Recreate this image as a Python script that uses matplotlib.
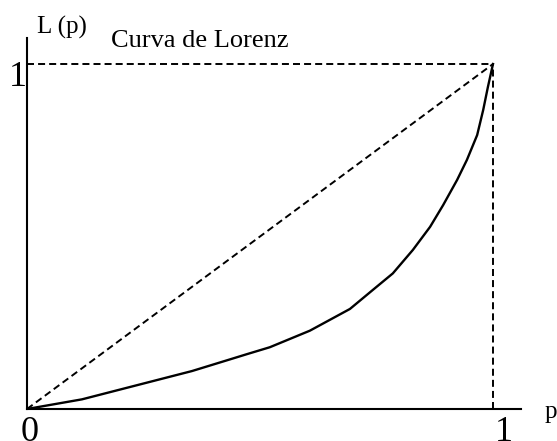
import matplotlib
matplotlib.use("Agg")
import matplotlib.pyplot as plt

# Lorenz curve
p_vals = [0, 0.118, 0.236, 0.354, 0.436, 0.472, 0.521, 0.607, 0.693, 0.742,
          0.785, 0.828, 0.865, 0.893, 0.923, 0.944, 0.966, 0.979, 0.989, 1.0]
L_vals = [0, 0.028, 0.069, 0.11, 0.144, 0.159, 0.179, 0.227, 0.29, 0.345,
          0.393, 0.461, 0.528, 0.591, 0.664, 0.722, 0.794, 0.867, 0.933, 1.0]

W, H = 557, 441
plt.rcParams['font.family'] = ['Liberation Serif', 'DejaVu Serif']

fig = plt.figure(figsize=(W / 100, H / 100), dpi=100)
# origin at (27, 409) px, p=1 at x=493, L=1 at y=64
ax = fig.add_axes([27 / W, (H - 409) / H, (521 - 27) / W, (409 - 38) / H])
ax.set_xlim(0, (521 - 27) / 466)
ax.set_ylim(0, (409 - 38) / 345)

dash = (0, (3.6, 2.1))
ax.plot([0, 1], [0, 1], color='black', lw=1.4, linestyle=dash)
ax.plot([0, 1], [1, 1], color='black', lw=1.4, linestyle=dash)
ax.plot([1, 1], [0, 1], color='black', lw=1.4, linestyle=dash)
ax.plot(p_vals, L_vals, color='black', lw=1.7)

for s in ['top', 'right']:
    ax.spines[s].set_visible(False)
for s in ['left', 'bottom']:
    ax.spines[s].set_linewidth(1.5)
    ax.spines[s].set_color('black')
ax.set_xticks([])
ax.set_yticks([])


def px(x, y):
    return x / W, 1 - y / H


fig.text(*px(37, 34), 'L (p)', fontsize=18, va='baseline', ha='left')
fig.text(*px(111, 47), 'Curva de Lorenz', fontsize=19, va='baseline', ha='left')
fig.text(*px(18, 86), '1', fontsize=26, va='baseline', ha='center')
fig.text(*px(30, 441), '0', fontsize=26, va='baseline', ha='center')
fig.text(*px(504, 441), '1', fontsize=26, va='baseline', ha='center')
fig.text(*px(545, 418), 'p', fontsize=18, va='baseline', ha='left')

fig.savefig('out.png', dpi=100)
